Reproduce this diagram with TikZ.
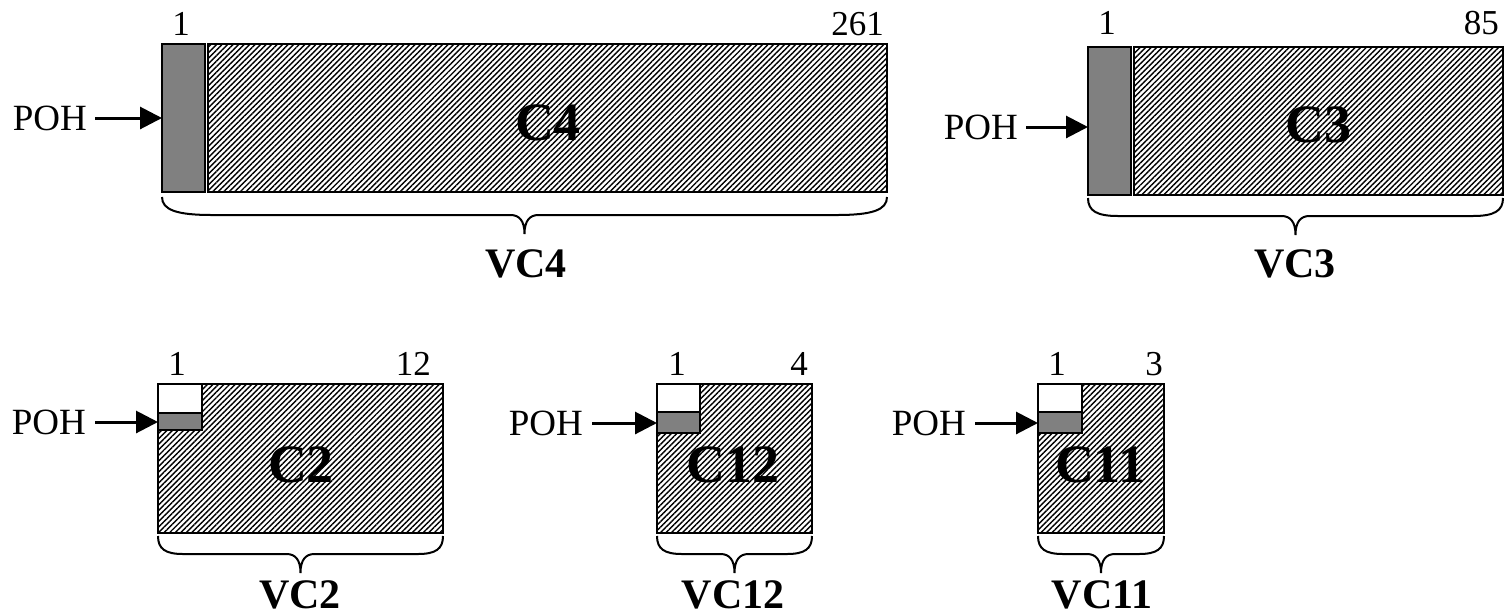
\documentclass[tikz,border=0pt]{standalone}
\usepackage{fontspec}
\setmainfont{Liberation Serif}
\usetikzlibrary{patterns.meta,arrows.meta}
\definecolor{pohgrey}{RGB}{128,128,128}
\newcommand\vcbrace[4]{%
  \pgfmathsetmacro\bxmid{(#1+#2)/2}%
  \draw[bracestyle] (#1,#3) .. controls (#1,{#3+13}) and ({#1+0.3*#4},{#3+18}) .. ({#1+#4},{#3+18})
    -- ({\bxmid-14},{#3+18}) .. controls ({\bxmid-5},{#3+18}) and (\bxmid,{#3+24}) .. (\bxmid,{#3+37})
    .. controls (\bxmid,{#3+24}) and ({\bxmid+5},{#3+18}) .. ({\bxmid+14},{#3+18})
    -- ({#2-#4},{#3+18}) .. controls ({#2-0.3*#4},{#3+18}) and (#2,{#3+13}) .. (#2,#3);%
}
\tikzset{
  boxbase/.style={draw, line width=2.2pt, inner sep=0pt, outer sep=0pt, anchor=north west},
  hatchbox/.style={boxbase, pattern={Lines[angle=45,distance=3.9pt,line width=1.4pt]}},
  greybox/.style={boxbase, fill=pohgrey},
  whitebox/.style={boxbase, fill=white},
  pohlabel/.style={font=\fontsize{37}{42}\selectfont, inner sep=0pt, anchor=east},
  numlabel/.style={font=\fontsize{35}{40}\selectfont, inner sep=0pt, anchor=base},
  numlabelr/.style={font=\fontsize{35}{40}\selectfont, inner sep=0pt, anchor=base east},
  bigname/.style={font=\bfseries\fontsize{54}{60}\selectfont, inner sep=0pt, anchor=base},
  vcname/.style={font=\bfseries\fontsize{42}{48}\selectfont, inner sep=0pt, anchor=base},
  pointer/.style={line width=3pt, -{Triangle[length=22pt,width=22pt]}},
  bracestyle/.style={line width=2pt},
}
\begin{document}
\begin{tikzpicture}[x=1pt,y=-1pt]
\useasboundingbox (0,0) rectangle (1504,614);

% ---------- C4 / VC4 ----------
\node[greybox, minimum width=43pt, minimum height=148pt] (g4) at (162,44) {};
\node[hatchbox, minimum width=679pt, minimum height=148pt] (h4) at (208,44) {};
\node[bigname] (c4) at (548,140) {C4};
\node[numlabel] (n4a) at (181,35) {1};
\node[numlabelr] (n4b) at (884,35) {261};
\node[pohlabel] (p4) at (87,118) {POH};
\draw[pointer] ([xshift=8pt]p4.east) -- (p4.east -| g4.west);
\vcbrace{162}{887}{197}{50}
\node[vcname] (vc4) at (526,277) {VC4};

% ---------- C3 / VC3 ----------
\node[greybox, minimum width=43pt, minimum height=148pt] (g3) at (1088,47) {};
\node[hatchbox, minimum width=369pt, minimum height=148pt] (h3) at (1134,47) {};
\node[bigname] (c3) at (1318,142) {C3};
\node[numlabel] (n3a) at (1107,34) {1};
\node[numlabelr] (n3b) at (1499,34) {85};
\node[pohlabel] (p3) at (1018,127) {POH};
\draw[pointer] ([xshift=8pt]p3.east) -- (p3.east -| g3.west);
\vcbrace{1088}{1503}{198}{30}
\node[vcname] (vc3) at (1295,277) {VC3};

% ---------- C2 / VC2 ----------
\node[hatchbox, minimum width=285pt, minimum height=149pt] (h2) at (158,384) {};
\node[whitebox, minimum width=44pt, minimum height=29pt] (w2) at (158,384) {};
\node[greybox, minimum width=44pt, minimum height=17pt] (g2) at (158,413) {};
\node[bigname] (c2) at (301,482) {C2};
\node[numlabel] (n2a) at (177,375) {1};
\node[numlabelr] (n2b) at (431,375) {12};
\node[pohlabel] (p2) at (86,422) {POH};
\draw[pointer] ([xshift=9pt]p2.east) -- (p2.east -| g2.west);
\vcbrace{158}{443}{536}{25}
\node[vcname] (vc2) at (300,608) {VC2};

% ---------- C12 / VC12 ----------
\node[hatchbox, minimum width=155pt, minimum height=149pt] (h12) at (657,384) {};
\node[whitebox, minimum width=43pt, minimum height=28pt] (w12) at (657,384) {};
\node[greybox, minimum width=43pt, minimum height=21pt] (g12) at (657,412) {};
\node[bigname] (c12) at (733,482) {C12};
\node[numlabel] (n12a) at (677,375) {1};
\node[numlabelr] (n12b) at (808,375) {4};
\node[pohlabel] (p12) at (583,423) {POH};
\draw[pointer] ([xshift=9pt]p12.east) -- (p12.east -| g12.west);
\vcbrace{657}{812}{536}{25}
\node[vcname] (vc12) at (733,608) {VC12};

% ---------- C11 / VC11 ----------
\node[hatchbox, minimum width=126pt, minimum height=149pt] (h11) at (1038,384) {};
\node[whitebox, minimum width=44pt, minimum height=28pt] (w11) at (1038,384) {};
\node[greybox, minimum width=44pt, minimum height=21pt] (g11) at (1038,412) {};
\node[bigname] (c11) at (1100,482) {C11};
\node[numlabel] (n11a) at (1057,375) {1};
\node[numlabelr] (n11b) at (1163,375) {3};
\node[pohlabel] (p11) at (966,423) {POH};
\draw[pointer] ([xshift=9pt]p11.east) -- (p11.east -| g11.west);
\vcbrace{1038}{1164}{536}{25}
\node[vcname] (vc11) at (1102,608) {VC11};
\end{tikzpicture}
\end{document}
